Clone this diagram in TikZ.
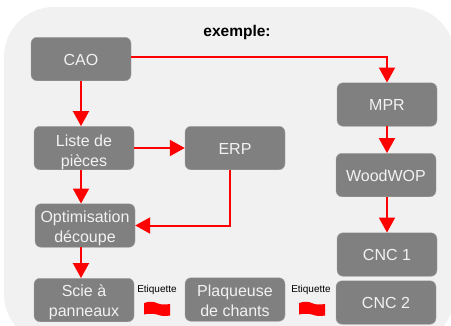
\documentclass[tikz,border=0pt]{standalone}
\usepackage{fontspec}
\setmainfont{Liberation Sans}
\usetikzlibrary{arrows.meta}
\definecolor{panel}{HTML}{F1F1F1}
\definecolor{boxgray}{HTML}{808080}
\definecolor{boxtext}{HTML}{F2F2F2}
\tikzset{
  x=1pt,y=-1pt,
  stepbox/.style={rectangle,rounded corners=6pt,fill=boxgray,draw=boxgray!70!white,line width=0.4pt,
    text=boxtext,align=center,inner sep=0pt,minimum width=100pt,minimum height=43.5pt,
    font=\fontsize{16}{20}\selectfont},
  oneline/.style={text height=12pt,text depth=0pt},
  twolines/.style={text height=33pt,text depth=0pt},
  flow/.style={draw=red,line width=2pt,-{Triangle[length=15pt,width=16pt,fill=red]}},
  tag/.style={inner sep=0pt,font=\fontsize{10}{12}\selectfont,text=black},
  flagshape/.style={fill=red,draw=none},
}
\begin{document}
\begin{tikzpicture}
\useasboundingbox (0,0) rectangle (451,325);
\begin{scope}
\clip (0,0) rectangle (451,325);
\fill[white] (0,0) rectangle (451,325);
\fill[panel,rounded corners=50pt] (4,7) rectangle (455,344);
\end{scope}
\node[inner sep=0pt,font=\bfseries\fontsize{15.5}{18}\selectfont] (title) at (237,32) {exemple:};
\node[stepbox,oneline] (cao) at (81,59) {CAO};
\node[stepbox,twolines,text height=37pt] (liste) at (84,148) {Liste de\\pièces};
\node[stepbox,oneline] (erp) at (235,148) {ERP};
\node[stepbox,oneline] (mpr) at (387,104.5) {MPR};
\node[stepbox,oneline] (wood) at (386,175) {WoodWOP};
\node[stepbox,twolines] (opti) at (85,225.5) {Optimisation\\découpe};
\node[stepbox,twolines] (scie) at (84,300) {Scie à\\panneaux};
\node[stepbox,twolines] (plaq) at (235,299.5) {Plaqueuse\\de chants};
\node[stepbox,oneline] (cnc1) at (387,254.5) {CNC 1};
\node[stepbox,oneline] (cnc2) at (386,302.5) {CNC 2};
\node[tag] (et1) at (157,289.5) {Etiquette};
\node[tag] (et2) at (311,289.5) {Etiquette};
\draw[flow] ([yshift=2.5pt]cao.east) -| (mpr.north);
\draw[flow] (cao.south) -- (cao.south |- liste.north);
\draw[flow] (liste.east) -- (erp.west);
\draw[flow] (liste.south -| cao.south) -- (cao.south |- opti.north);
\draw[flow] (erp.south) ++(-5,0) |- (opti.east);
\draw[flow] (opti.south -| cao.south) -- (cao.south |- scie.north);
\draw[flow] (mpr.south) -- (mpr.south |- wood.north);
\draw[flow] (wood.south -| mpr.south) -- (mpr.south |- cnc1.north);
\fill[flagshape] (144,303) .. controls (150,301) and (154,301.5) .. (158,303.5) .. controls (162,305) and (166,304.5) .. (170,304) -- (170,315.5) .. controls (165,316.5) and (161,316) .. (157,314.5) .. controls (153,313.5) and (149,313.5) .. (144,314.5) -- cycle;
\fill[flagshape] (299,303) .. controls (305,301) and (309,301.5) .. (313,303.5) .. controls (317,305) and (321,304.5) .. (325,304) -- (325,315.5) .. controls (320,316.5) and (316,316) .. (312,314.5) .. controls (308,313.5) and (304,313.5) .. (299,314.5) -- cycle;
\end{tikzpicture}
\end{document}
